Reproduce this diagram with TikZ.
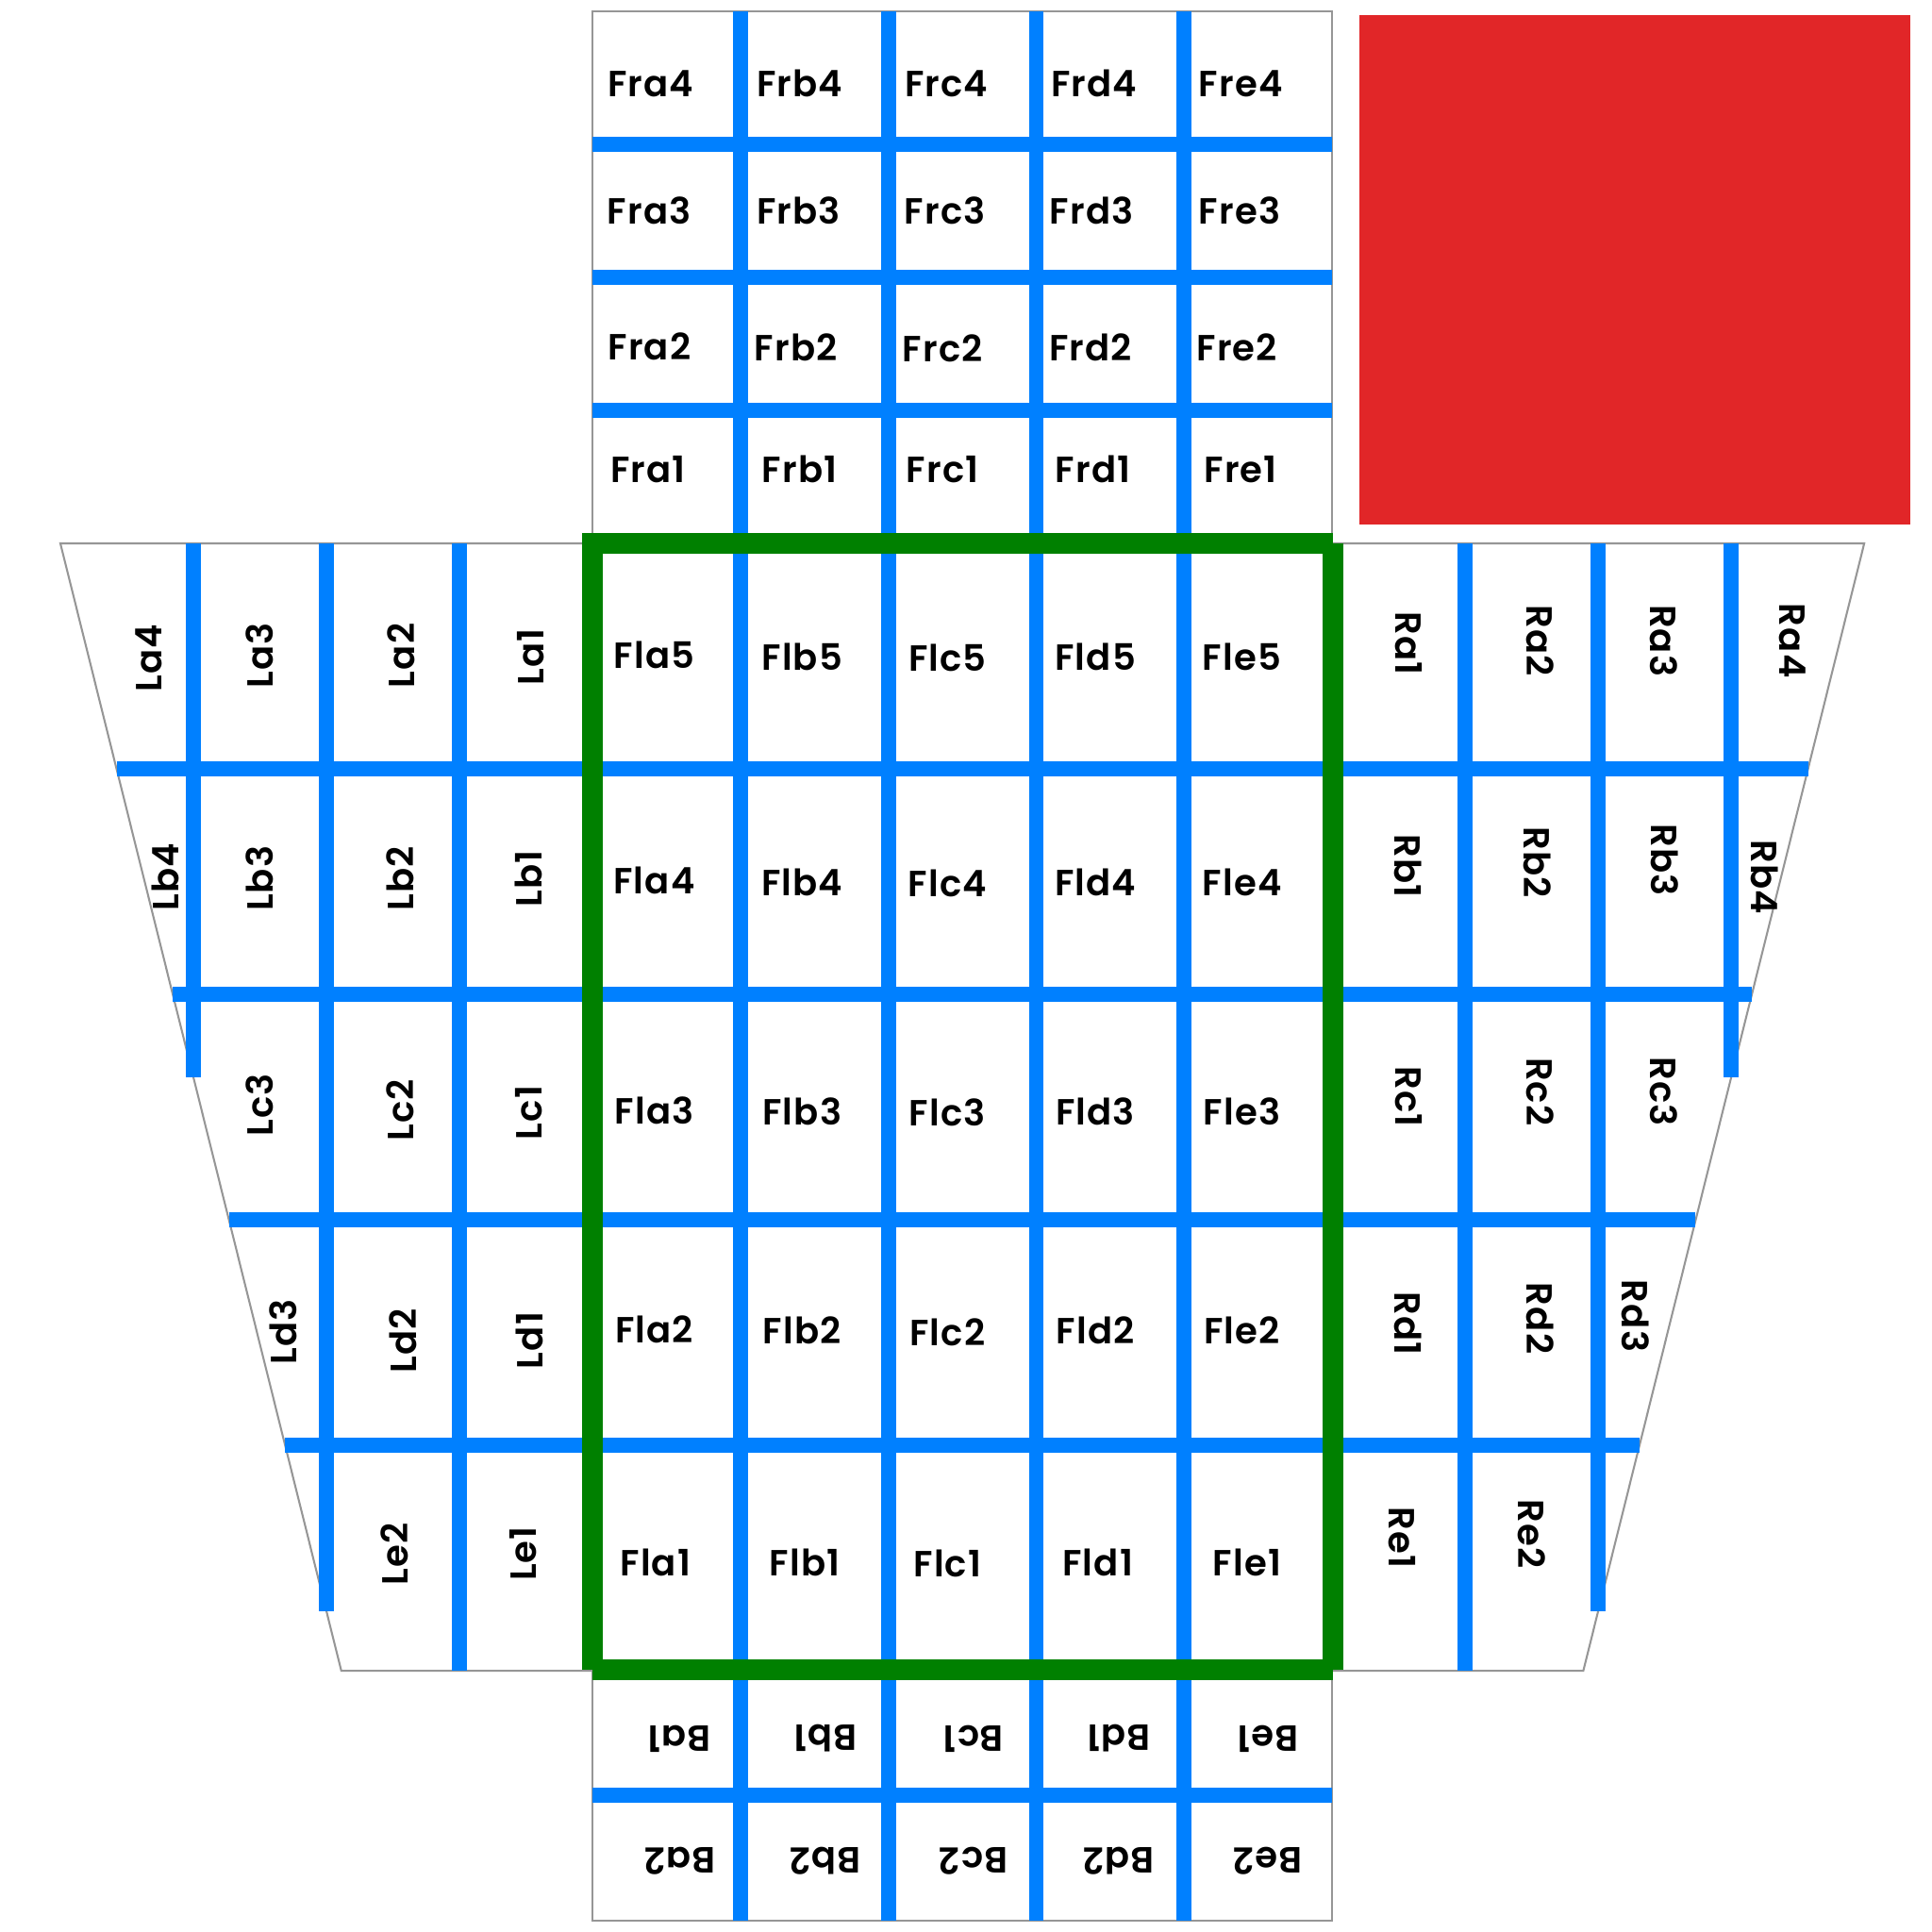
\documentclass[tikz,border=0pt]{standalone}
\usepackage{fontspec}
\newfontfamily\lblfont{Poppins SemiBold}[LetterSpace=3]
\definecolor{gridblue}{RGB}{0,128,255}
\definecolor{framegreen}{RGB}{0,128,0}
\definecolor{boxred}{RGB}{225,38,40}
\definecolor{edgegray}{RGB}{150,150,150}
\begin{document}
\begin{tikzpicture}[x=0.1mm,y=-0.1mm,
  edge/.style={draw=edgegray, line width=0.45pt},
  bar/.style={draw=gridblue, line width=3.4pt},
  frameline/.style={draw=framegreen, line width=4.8pt, miter limit=10},
  lbl/.style={font=\lblfont\fontsize{8.4}{9}\selectfont, inner sep=0pt, anchor=center},
  lblL/.style={lbl, rotate=90},
  lblR/.style={lbl, rotate=-90},
  lblB/.style={lbl, rotate=180}]
\fill[white] (0,0) rectangle (1568,1568);
\useasboundingbox (0,0) rectangle (1568,1568);
% red block
\fill[boxred] (1103,12) rectangle (1550,425.5);
% grey outlines
\draw[edge] (481,9) rectangle (1081,441);
\draw[edge] (481,1356) rectangle (1081,1559);
\draw[edge] (481,441) -- (49,441) -- (277,1356) -- (481,1356);
\draw[edge] (1081,441) -- (1513,441) -- (1285,1356) -- (1081,1356);
% blue bars
\foreach \x in {601,721,841,961} \draw[bar] (\x,9) -- (\x,1559);
\foreach \y in {117,225,333} \draw[bar] (481,\y) -- (1081,\y);
\draw[bar] (481,1457) -- (1081,1457);
\draw[bar] (94.6,624) -- (1467.4,624);
\draw[bar] (140.2,807) -- (1421.8,807);
\draw[bar] (185.8,990) -- (1376.2,990);
\draw[bar] (231.4,1173) -- (1330.6,1173);
\draw[bar] (157,441) -- (157,874);
\draw[bar] (265,441) -- (265,1308);
\draw[bar] (373,441) -- (373,1356);
\draw[bar] (1405,441) -- (1405,874);
\draw[bar] (1297,441) -- (1297,1308);
\draw[bar] (1189,441) -- (1189,1356);
% green frame
\draw[frameline] (481,1355) -- (481,441) -- (1081.5,441);
\draw[frameline] (481,1355) -- (1081.5,1355);
\draw[frameline] (1081.5,441) -- (1081.5,1355);
% Fr labels
\node[lbl] (Fra4) at (528,68) {Fra4};
\node[lbl] (Frb4) at (649,68) {Frb4};
\node[lbl] (Frc4) at (768,68) {Frc4};
\node[lbl] (Frd4) at (888,68) {Frd4};
\node[lbl] (Fre4) at (1007,68) {Fre4};
\node[lbl] (Fra3) at (527,171) {Fra3};
\node[lbl] (Frb3) at (648,171) {Frb3};
\node[lbl] (Frc3) at (767,171) {Frc3};
\node[lbl] (Frd3) at (886,171) {Frd3};
\node[lbl] (Fre3) at (1006,171) {Fre3};
\node[lbl] (Fra2) at (527,281) {Fra2};
\node[lbl] (Frb2) at (646,282) {Frb2};
\node[lbl] (Frc2) at (765,283) {Frc2};
\node[lbl] (Frd2) at (885,282) {Frd2};
\node[lbl] (Fre2) at (1004,282) {Fre2};
\node[lbl] (Fra1) at (526,381) {Fra1};
\node[lbl] (Frb1) at (649,381) {Frb1};
\node[lbl] (Frc1) at (765,381) {Frc1};
\node[lbl] (Frd1) at (887,381) {Frd1};
\node[lbl] (Fre1) at (1007,381) {Fre1};
% Fl labels
\node[lbl] (Fla5) at (531,532) {Fla5};
\node[lbl] (Flb5) at (651,533) {Flb5};
\node[lbl] (Flc5) at (769,534) {Flc5};
\node[lbl] (Fld5) at (889,533) {Fld5};
\node[lbl] (Fle5) at (1008,533) {Fle5};
\node[lbl] (Fla4) at (531,715) {Fla4};
\node[lbl] (Flb4) at (651,716) {Flb4};
\node[lbl] (Flc4) at (769,717) {Flc4};
\node[lbl] (Fld4) at (889,716) {Fld4};
\node[lbl] (Fle4) at (1008,716) {Fle4};
\node[lbl] (Fla3) at (531,901) {Fla3};
\node[lbl] (Flb3) at (651,902) {Flb3};
\node[lbl] (Flc3) at (769,903) {Flc3};
\node[lbl] (Fld3) at (889,902) {Fld3};
\node[lbl] (Fle3) at (1008,902) {Fle3};
\node[lbl] (Fla2) at (531,1079) {Fla2};
\node[lbl] (Flb2) at (651,1080) {Flb2};
\node[lbl] (Flc2) at (769,1081) {Flc2};
\node[lbl] (Fld2) at (889,1080) {Fld2};
\node[lbl] (Fle2) at (1008,1080) {Fle2};
\node[lbl] (Fla1) at (532,1268) {Fla1};
\node[lbl] (Flb1) at (653,1268) {Flb1};
\node[lbl] (Flc1) at (769,1269) {Flc1};
\node[lbl] (Fld1) at (891,1268) {Fld1};
\node[lbl] (Fle1) at (1012,1268) {Fle1};
% L labels
\node[lblL] (La4) at (121,534) {La4};
\node[lblL] (La3) at (211,532) {La3};
\node[lblL] (La2) at (326,532) {La2};
\node[lblL] (La1) at (431,533) {La1};
\node[lblL] (Lb4) at (134,712) {Lb4};
\node[lblL] (Lb3) at (211,713) {Lb3};
\node[lblL] (Lb2) at (325,713) {Lb2};
\node[lblL] (Lb1) at (429,713) {Lb1};
\node[lblL] (Lc3) at (211,897) {Lc3};
\node[lblL] (Lc2) at (325,901) {Lc2};
\node[lblL] (Lc1) at (429,903) {Lc1};
\node[lblL] (Ld3) at (230,1081) {Ld3};
\node[lblL] (Ld2) at (327,1088) {Ld2};
\node[lblL] (Ld1) at (430,1088) {Ld1};
\node[lblL] (Le2) at (320,1261) {Le2};
\node[lblL] (Le1) at (425,1261) {Le1};
% R labels
\node[lblR] (Ra1) at (1143,522) {Ra1};
\node[lblR] (Ra2) at (1250,520) {Ra2};
\node[lblR] (Ra3) at (1350,520) {Ra3};
\node[lblR] (Ra4) at (1455,520) {Ra4};
\node[lblR] (Rb1) at (1143,703) {Rb1};
\node[lblR] (Rb2) at (1248,700) {Rb2};
\node[lblR] (Rb3) at (1351,698) {Rb3};
\node[lblR] (Rb4) at (1432,712) {Rb4};
\node[lblR] (Rc1) at (1143,890) {Rc1};
\node[lblR] (Rc2) at (1250,886) {Rc2};
\node[lblR] (Rc3) at (1350,886) {Rc3};
\node[lblR] (Rd1) at (1143,1074) {Rd1};
\node[lblR] (Rd2) at (1250,1070) {Rd2};
\node[lblR] (Rd3) at (1327,1068) {Rd3};
\node[lblR] (Re1) at (1138,1248) {Re1};
\node[lblR] (Re2) at (1243,1245) {Re2};
% B labels
\node[lblB] (Ba1) at (551,1411) {Ba1};
\node[lblB] (Bb1) at (670,1411) {Bb1};
\node[lblB] (Bc1) at (790,1411) {Bc1};
\node[lblB] (Bd1) at (908,1411) {Bd1};
\node[lblB] (Be1) at (1029,1411) {Be1};
\node[lblB] (Ba2) at (552,1510) {Ba2};
\node[lblB] (Bb2) at (670,1510) {Bb2};
\node[lblB] (Bc2) at (790,1510) {Bc2};
\node[lblB] (Bd2) at (908,1510) {Bd2};
\node[lblB] (Be2) at (1029,1510) {Be2};
\end{tikzpicture}
\end{document}
